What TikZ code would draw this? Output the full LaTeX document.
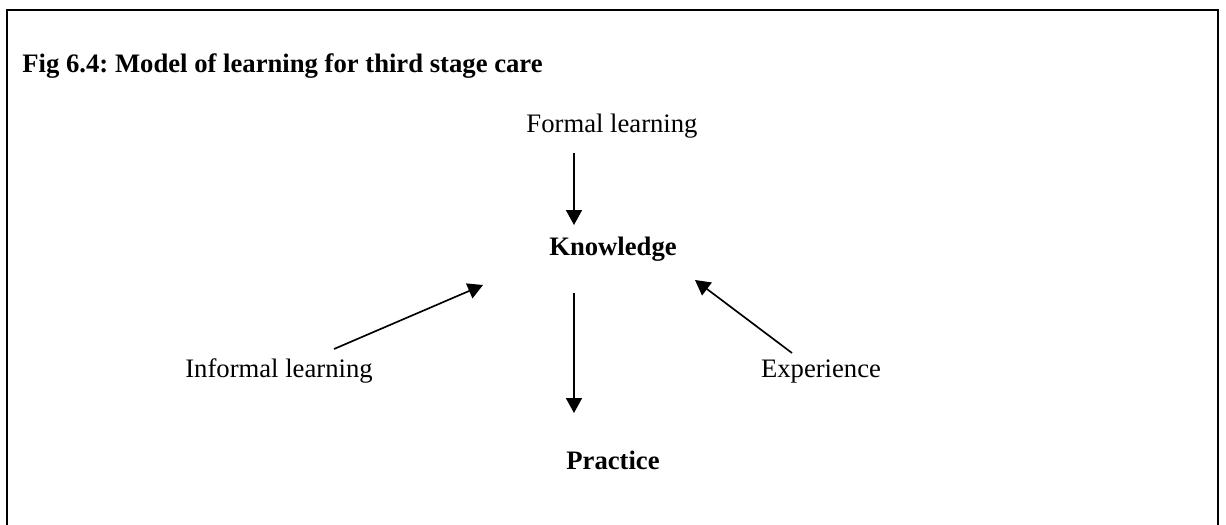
\documentclass[tikz,border=0pt]{standalone}
\usepackage{fontspec}
\setmainfont{Liberation Serif}
\usetikzlibrary{arrows.meta}
\frenchspacing
\begin{document}
\begin{tikzpicture}[x=0.45pt,y=-0.45pt,
  lbl/.style={anchor=base,inner sep=0pt,font=\fontsize{12pt}{14pt}\selectfont},
  blbl/.style={lbl,font=\fontsize{12pt}{14pt}\selectfont\bfseries},
  arr/.style={line width=0.75pt,-{Triangle[length=6.75pt,width=7.2pt]}},
  frame/.style={line width=1pt}]
\useasboundingbox (0,0) rectangle (1226,524);
\draw[frame] (7,560) -- (7,10) -- (1218,10) -- (1218,560);
\node[blbl,anchor=base west] (title) at (22,72) {Fig 6.4: Model of learning for third stage care};
\node[lbl] (formal) at (612,132) {Formal learning};
\node[blbl] (know) at (613,255) {Knowledge};
\node[blbl] (prac) at (613,469) {Practice};
\node[lbl] (informal) at (279,377) {Informal learning};
\node[lbl] (exp) at (821,377) {Experience};
\coordinate (f1) at (574,153);
\coordinate (f2) at (574,225);
\coordinate (k1) at (574,293);
\coordinate (k2) at (574,413);
\coordinate (i1) at (334,349);
\coordinate (i2) at (483,285);
\coordinate (e1) at (792,353);
\coordinate (e2) at (695,280);
\draw[arr] (f1) -- (f2);
\draw[arr] (k1) -- (k2);
\draw[arr] (i1) -- (i2);
\draw[arr] (e1) -- (e2);
\end{tikzpicture}
\end{document}
